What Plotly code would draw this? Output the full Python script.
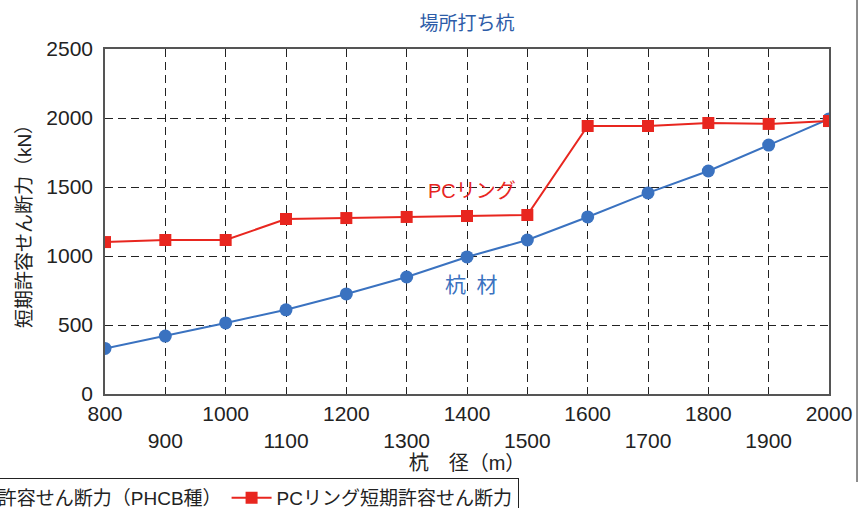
import plotly.graph_objects as go

diameters = [800, 900, 1000, 1100, 1200, 1300, 1400, 1500, 1600, 1700, 1800, 1900, 2000]
pile_shear = [330, 420, 515, 610, 725, 848, 993, 1116, 1283, 1457, 1616, 1804, 1993]
ring_shear = [1101, 1116, 1116, 1268, 1275, 1283, 1290, 1297, 1942, 1942, 1964, 1957, 1978]
tick_vals = diameters
tick_text = [str(v) if i % 2 == 0 else "<br>" + str(v) for i, v in enumerate(diameters)]

RED = "#e8261f"
BLUE = "#3a72c0"
FONT = "Liberation Sans, Noto Sans CJK JP, sans-serif"

fig = go.Figure()
fig.add_trace(go.Scatter(
    x=diameters, y=pile_shear, mode="lines+markers",
    name="杭材短期許容せん断力（PHCB種）",
    line=dict(color=BLUE, width=2),
    marker=dict(symbol="circle", size=13, color=BLUE),
))
fig.add_trace(go.Scatter(
    x=diameters, y=ring_shear, mode="lines+markers",
    name="PCリング短期許容せん断力",
    line=dict(color=RED, width=2),
    marker=dict(symbol="square", size=12, color=RED),
))

fig.add_annotation(x=1408, y=1470, text="PCリング", showarrow=False,
                   font=dict(color=RED, size=20, family=FONT))
fig.add_annotation(x=1407, y=795, text="杭\u2002材", showarrow=False,
                   font=dict(color=BLUE, size=21, family=FONT))

# outer frame line at right
fig.add_shape(type="line", xref="paper", yref="paper", x0=1.0387, x1=1.0387,
              y0=1.15, y1=-0.255, line=dict(color="#666666", width=1.5))

fig.update_layout(
    width=865, height=508,
    margin=dict(l=105, r=36, t=49, b=114, autoexpand=False),
    paper_bgcolor="white", plot_bgcolor="white",
    font=dict(family=FONT, size=21, color="#222222"),
    title=dict(text="場所打ち杭", x=0.5, xref="paper", y=0.955, yanchor="middle",
               font=dict(color="#2d5ca8", size=19, family=FONT)),
    showlegend=True,
    legend=dict(orientation="h", x=-0.3235, xanchor="left", y=-0.243, yanchor="top",
                bordercolor="#222222", borderwidth=1, bgcolor="white",
                font=dict(size=19, family=FONT, color="#222222"),
                itemwidth=40),
    xaxis=dict(
        range=[800, 2000], tickmode="array", tickvals=tick_vals, ticktext=tick_text,
        showgrid=True, gridcolor="#222222", gridwidth=1, griddash="8px,5px",
        showline=True, linecolor="#555555", linewidth=1.5, mirror=True,
        ticks="", tickfont=dict(size=21),
        title=dict(text="杭　径（m）", font=dict(size=20), standoff=0),
        zeroline=False,
    ),
    yaxis=dict(
        range=[0, 2500], tickmode="linear", dtick=500, tick0=0,
        showgrid=True, gridcolor="#222222", gridwidth=1, griddash="8px,5px",
        showline=True, linecolor="#555555", linewidth=1.5, mirror=True,
        ticks="", tickfont=dict(size=21), ticklabelstandoff=6,
        title=dict(text="短期許容せん断力（kN）", font=dict(size=19), standoff=10),
        zeroline=False,
    ),
)

fig.write_html(
    "out.html",
    config={"displayModeBar": False},
    post_script="document.body.style.margin='0';document.body.style.overflow='hidden';",
)
